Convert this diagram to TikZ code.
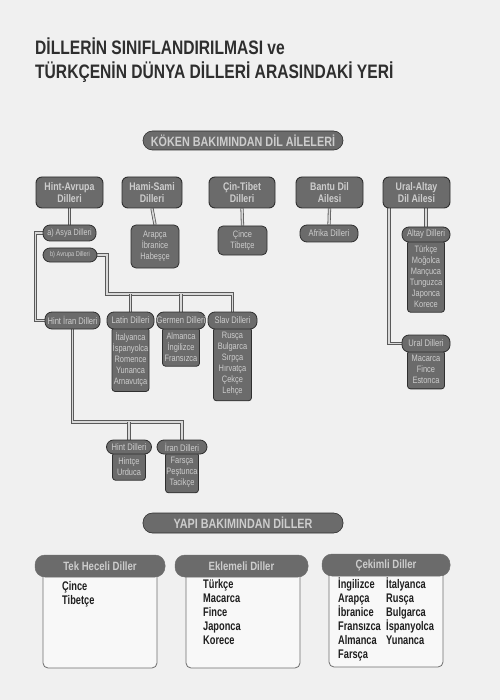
\documentclass[tikz,border=0pt]{standalone}
\usepackage{fontspec}
\newfontfamily\cf[FakeStretch=0.8]{Liberation Sans}
\newfontfamily\cfn[FakeStretch=0.74]{Liberation Sans}
\definecolor{pagebg}{HTML}{F0F0F0}
\definecolor{boxgray}{HTML}{6B6B6B}
\definecolor{boxedge}{HTML}{2F2F2F}
\definecolor{boxtext}{HTML}{CDCDCD}
\definecolor{linedark}{HTML}{5A5A5A}
\definecolor{linelight}{HTML}{D9D9D9}
\definecolor{titletext}{HTML}{2E2E2E}
\definecolor{itemtext}{HTML}{1E1E1E}
\definecolor{outline}{HTML}{6E6E6E}
\pgfdeclarelayer{bgpage}
\pgfdeclarelayer{bglines}
\pgfsetlayers{bgpage,bglines,main}
\begin{document}
\begin{tikzpicture}[x=1pt,y=-1pt,
 fam/.style={draw=boxedge, line width=0.9pt, fill=boxgray, rounded corners=6pt, text=boxtext, font=\cf\bfseries\fontsize{11}{11.5}\selectfont, align=center, inner sep=0pt, minimum height=31},
 pill/.style={draw=boxedge, line width=0.8pt, fill=boxgray, rounded corners=7pt, text=boxtext, font=\cf\fontsize{9.5}{10}\selectfont, inner sep=0pt, minimum height=17},
 lst/.style={draw=boxedge, line width=0.8pt, fill=boxgray, rounded corners=3pt, text=boxtext, font=\cf\fontsize{9.3}{11}\selectfont, align=center, inner xsep=0pt, inner ysep=5pt, anchor=north},
 bar/.style={draw=boxedge, line width=0.6pt, fill=boxgray, rounded corners=9.5pt, text=boxtext, font=\cf\bfseries\fontsize{13.5}{14}\selectfont, inner sep=0pt, minimum width=200, minimum height=19},
 conn/.style={draw=linedark, line width=0.8pt, double=linelight, double distance=1.6pt},
 titletxt/.style={anchor=base west, inner sep=0pt, text=titletext, font=\cf\bfseries\fontsize{19.5}{20}\selectfont},
 outbox/.style={draw=outline, line width=0.8pt, fill=white!55!pagebg, rounded corners=5pt, minimum width=114, minimum height=102, inner sep=0pt},
 head/.style={draw=boxedge!70, line width=0.5pt, fill=boxgray, rounded corners=10pt, minimum height=22, inner sep=0pt, text=boxtext, font=\cf\bfseries\fontsize{12}{12}\selectfont},
 items/.style={anchor=north west, inner sep=0pt, align=left, text=itemtext, font=\cfn\bfseries\fontsize{12.5}{14}\selectfont}
]
\useasboundingbox (0,0) rectangle (500,700);
\begin{pgfonlayer}{bgpage}
\fill[pagebg] (0,0) rectangle (500,700);
\end{pgfonlayer}

% title
\node[titletxt] (t1) at (35,55) {DİLLERİN SINIFLANDIRILMASI ve};
\node[titletxt] (t2) at (35,79) {TÜRKÇENİN DÜNYA DİLLERİ ARASINDAKİ YERİ};

% section bars
\node[bar] (koken) at (243,140.5) {KÖKEN BAKIMINDAN DİL AİLELERİ};
\node[bar, minimum height=20] (yapi) at (243,523) {YAPI BAKIMINDAN DİLLER};

% families
\node[fam, minimum width=67] (hA) at (69.5,192.5) {Hint-Avrupa\\Dilleri};
\node[fam, minimum width=60] (hS) at (152,192.5) {Hami-Sami\\Dilleri};
\node[fam, minimum width=66] (cT) at (242,192.5) {Çin-Tibet\\Dilleri};
\node[fam, minimum width=67] (bD) at (329.5,192.5) {Bantu Dil\\Ailesi};
\node[fam, minimum width=67] (uA) at (416.5,192.5) {Ural-Altay\\Dil Ailesi};

% level 2
\node[pill, minimum width=53, minimum height=16, font=\cf\fontsize{9}{9}\selectfont] (asya) at (69.5,233) {a) Asya Dilleri};
\node[pill, minimum width=54, minimum height=14, font=\cf\fontsize{7}{7}\selectfont] (avrupa) at (70,255) {b) Avrupa Dilleri};
\node[lst, anchor=center, minimum width=48, minimum height=43, rounded corners=5pt, inner ysep=0pt] (hSL) at (155,246.5) {Arapça\\İbranice\\Habeşçe};
\node[lst, anchor=center, minimum width=49, minimum height=29, rounded corners=5pt, inner ysep=0pt] (cTL) at (242.5,240.5) {Çince\\Tibetçe};
\node[pill, minimum width=58] (afrika) at (329,233.5) {Afrika Dilleri};

\node[lst, minimum width=37] (altayL) at ([yshift=2pt]426,242) {Türkçe\\Moğolca\\Mançuca\\Tunguzca\\Japonca\\Korece};
\node[pill, minimum width=48, minimum height=15] (altay) at (426,234.5) {Altay Dilleri};
\node[lst, minimum width=37] (uralL) at ([yshift=2pt]426,352) {Macarca\\Fince\\Estonca};
\node[pill, minimum width=48] (ural) at (426,343.5) {Ural Dilleri};

% level 3
\node[pill, minimum width=55] (hintiran) at (72.5,320.5) {Hint İran Dilleri};
\node[lst, minimum width=37] (latinL) at ([yshift=2pt]130.5,329) {İtalyanca\\İspanyolca\\Romence\\Yunanca\\Arnavutça};
\node[pill, minimum width=47] (latin) at (130.5,320.5) {Latin Dilleri};
\node[lst, minimum width=37] (germenL) at ([yshift=2pt]181,329) {Almanca\\İngilizce\\Fransızca};
\node[pill, minimum width=48] (germen) at (181,320.5) {Germen Dilleri};
\node[lst, minimum width=38] (slavL) at ([yshift=2pt]232.5,329) {Rusça\\Bulgarca\\Sırpça\\Hırvatça\\Çekçe\\Lehçe};
\node[pill, minimum width=49] (slav) at (232.5,320.5) {Slav Dilleri};

% level 4
\node[lst, minimum width=33] (hintL) at ([yshift=2pt]129,454) {Hintçe\\Urduca};
\node[pill, minimum width=45, minimum height=14] (hint) at (129,447) {Hint Dilleri};
\node[lst, minimum width=33] (iranL) at ([yshift=2pt]182,454) {Farsça\\Peştunca\\Tacikçe};
\node[pill, minimum width=50, minimum height=14] (iran) at (182,447) {İran Dilleri};

% connectors
\coordinate (bus) at (107,294);
\coordinate (bus2) at (72.5,422);
\begin{pgfonlayer}{bglines}
\draw[conn] (hA.south) -- (asya.north);
\draw[conn] (hS.south) -- (hSL.north);
\draw[conn] (cT.south) -- (cTL.north);
\draw[conn] (bD.south) -- (afrika.north);
\draw[conn] (altay.north) -- (altay.north |- uA.south);
\draw[conn] ([xshift=-27.5pt]uA.south) |- (ural.west);
\draw[conn] (asya.west) -- ++(-7,0) |- (hintiran.west);
\draw[conn] (avrupa.east) -| (bus) -| (slav.north);
\draw[conn] (latin.north) -- (latin.north |- bus);
\draw[conn] (germen.north) -- (germen.north |- bus);
\draw[conn] (hintiran.south) -- (bus2) -| (iran.north);
\draw[conn] (hint.north) -- (hint.north |- bus2);
\end{pgfonlayer}

% structural classes
\node[outbox] (tekbox) at (100,617) {};
\node[head, minimum width=130] (tek) at (100,566) {Tek Heceli Diller};
\node[items] (tekitems) at (62,581) {Çince\\Tibetçe};

\node[outbox] (eklbox) at (243,617) {};
\node[head, minimum width=133] (ekl) at (241.5,566) {Eklemeli Diller};
\node[items] (eklitems) at (203,579) {Türkçe\\Macarca\\Fince\\Japonca\\Korece};

\node[outbox] (cekbox) at (386,616) {};
\node[head, minimum width=128] (cek) at (386,565) {Çekimli Diller};
\node[items] (cekitems1) at (338,578) {İngilizce\\Arapça\\İbranice\\Fransızca\\Almanca\\Farsça};
\node[items] (cekitems2) at (386,578) {İtalyanca\\Rusça\\Bulgarca\\İspanyolca\\Yunanca};
\end{tikzpicture}
\end{document}
